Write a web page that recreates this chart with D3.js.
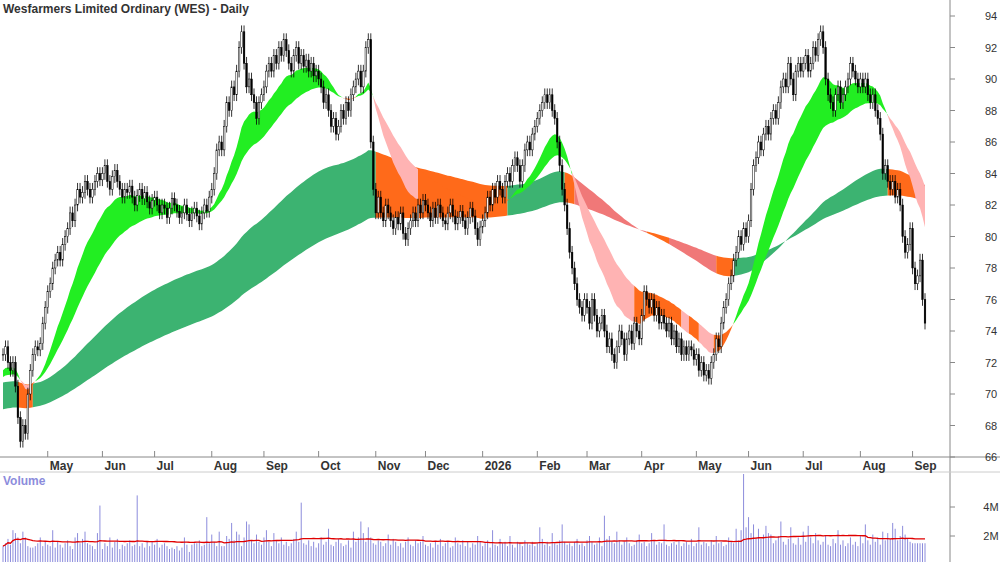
<!DOCTYPE html>
<html>
<head>
<meta charset="utf-8">
<script src="https://cdn.jsdelivr.net/npm/d3@7"></script>
<style>
  body { margin: 0; background: #fff; }
  svg { display: block; font-family: "Liberation Sans", Arial, sans-serif; }
</style>
</head>
<body>
<svg id="chart"></svg>
<script>
const width = 1000
const height = 562

// daily closes, one array per month (Apr 2025 starts on the 7th)
const apr25 = [72.5,73,72,71.5,72,70.5,68.5,67,68,67.5,70,71.5,72.5,73,72.8,73.2,74.5,75.5]
const may25 = [76.5,77,78,78.5,79,78.5,79.5,80,80.5,81.5,81,82,83,82.5,82.8,83.5,83,82.5,83,83.5,84,83.6]
const jun25 = [84,84.5,83.5,83,83.8,84.2,83.5,83,82.5,83,82.8,83.2,82.5,82,82.6,83,82.4,82.8,82.2,81.8,82.3]
const jul25 = [82.5,82,81.5,82,81.8,81.2,81.8,82.4,82,81.6,81.2,81.5,82,81.4,81,81.5,81.8,81.3,80.8,81.5,82,81.6,82.5]
const aug25 = [83,84,85.5,86,85.5,87,88.5,88,89.5,89,90.5,92,93,91,89.5,90,89,88.5,87.5,88.5,89]
const sep25 = [89.5,90.5,91,90.5,91.5,91,92,91.5,92.5,91.8,91,90.5,91.5,92,91,91.5,90.8,91.2,90.5,91,90.2,90.5]
const oct25 = [90,89.5,88.5,89,88,87,87.5,86.5,87,88,87.5,88.5,88,89,89.5,90,90.5,89.5,90.5,92,92.5,86,83]
const nov25 = [81.5,82.5,81.5,81,82,81.5,81,80.5,81.2,80.8,81.5,80.2,79.8,80.5,81,81.5,81,82,81.5,82.3]
const dec25 = [82,81.5,81,81.8,81.2,82,81.5,81,80.8,81.5,82,81.3,80.8,81.2,81.6,81,80.5,81.2,81.8,81.3,80.5,79.8,80.6]
const jan26 = [81,81.5,82.5,82,83,82.5,83.5,83,82.5,83.5,84,83.5,84.5,85,84.5,83.5,84.5,85.5,86,85.5,86.5,87]
const feb26 = [87.5,88,88.5,89,88.5,89,88,87.5,86,84.5,83,82,80.5,79,78,77,76,75.5,75,76]
const mar26 = [75.5,74.5,76,75,74,74.5,75,74,73,73.5,72.5,72,73,74,73.5,72.5,73.5,74,73.2,74.5,74,73.5]
const apr26 = [75,76.5,76,75.5,76,75,75.5,74.5,75,74.5,74,74.5,73.5,74,73,73.5,72.5,73,72.5,73,72.8,72.2]
const may26 = [72.5,71.5,72,71.2,71.5,71,72,72.5,73.5,73,74.5,75.5,76,77,77.5,78.5,79,80,79.5,80.5,80]
const jun26 = [81,83,84.5,85,86,85.5,86.5,87,86.5,87.5,88,87.5,88.5,89.5,90,89.5,91,90,89,90.5,91,90.5]
const jul26 = [91,91.5,90.5,91,92,91.5,92.5,93,92,90,89,88.5,88,89,89.5,88.5,89,89.5,90,91,90.5,90,89.5]
const aug26 = [90,89.5,90,89,88.5,89,88,87.5,86.5,84,84.5,83.5,83,83.5,82.5,83,82,80,79,79.5,80.5]
const sep26 = [78,77,77.5,78.5,76,74.5]

// daily volume in millions
const volA = [1.3,1.5,1.8,1.4,2.4,2.2,1.9,1.5,2.3,1.9,1.3,1.2,1.2,1.3,1.5,1.9,1.3,1.6,1.4,1.3,2.4,1.2,1.6,1.4,1.2,1.5,1.7,1.3,1.1,1.9,2.2,1.5,1.8,2.3,1.5,1.4,1.3,1.1,2.2,4.1,1.1,1.5,1.3,1.9,1.2,1.6,1.8,1.1,1.4,1.3,1.5,1.7,1.3,1.4,4.8,1.3,1.5,1.2,1.6,1.3,1.6,1.4,1.8,1.2,1.4,1.5,1.3,1.1,1.2,1.1,1.3,1.0,1.2,1.9,1.4,0.9,1.4,1.5,1.5,1.7,1.3,1.4,3.3,1.5,2.1,1.6,1.3,2.3,1.3,1.3,2.0,1.8,2.9,1.7,2.3,2.1,1.3,1.9,3.0]
const volB = [2.8,1.7,1.5,2.1,1.6,1.4,1.9,2.4,1.6,1.3,2.2,1.7,1.5,1.9,1.4,1.6,1.3,1.5,1.8,2.3,1.6,4.3,1.5,1.4,1.7,1.3,1.6,1.2,1.5,1.9,1.4,1.6,2.5,1.4,1.3,1.6,1.8,1.5,1.3,1.4,1.7,1.2,2.3,1.6,1.9,3.0,2.2,1.6,2.6,1.9,1.5,1.4,1.7,1.6,1.3,1.5,2.1,1.4,1.8,1.6,1.3,1.5,1.2,1.6,1.9,1.4,1.3,1.7,1.5,1.6,2.0,1.4,1.3,1.5,1.2,1.6,1.4,1.8,1.3,1.5,1.6,1.2,1.3,1.9,1.5,1.4,1.7,1.3,1.6,1.2,1.5,1.4,2.0,1.6,1.3,1.5,1.7,1.2,2.4,1.4,1.3,1.8,1.5,1.6,1.3,2.0,1.4,1.2,1.6,1.5,1.3,1.7]
const volC = [1.5,1.4,1.6,1.3,1.5,2.6,1.8,1.4,1.6,1.3,2.2,1.5,1.4,1.7,2.8,1.6,1.4,1.5,1.3,1.6,1.8,1.4,1.5,1.3,1.7,2.0,1.6,1.4,1.5,1.9,1.3,3.4,1.8,2.0,1.6,1.5,2.3,1.7,1.4,1.6,1.9,1.5,1.3,1.4,1.7,2.1,1.5,1.6,1.3,1.5,2.2,1.7,1.4,1.6,1.5,2.8,1.4,1.3,1.5,1.6,1.4,1.7,1.3,1.5,1.6,1.4,1.8,1.3,1.5,2.6,1.4,1.6,1.5,1.3,1.7,1.4,2.0,1.5,1.6,1.3,1.4,1.9,1.6,1.5,2.5,1.7,2.4,7.5,2.6,3.3,2.2,2.8,1.9,2.5,1.8,2.1,2.7,2.2]
const volD = [2.1,1.5,1.7,2.0,3.0,1.6,1.4,1.8,2.6,1.5,1.4,1.9,1.4,2.3,1.6,2.7,1.9,1.5,2.2,1.7,1.4,1.6,2.0,1.4,1.3,1.8,1.5,2.4,1.4,1.7,1.3,1.5,1.9,1.4,1.6,1.3,2.0,1.5,2.8,1.7,1.4,2.1,1.6,1.9,1.4,2.3,1.7,2.2,1.8,2.9,2.5,1.7,2.0,2.7,2.1,1.8,1.6]

const priceTicks = [66,68,70,72,74,76,78,80,82,84,86,88,90,92,94]
const volTicks = [2e6, 4e6]

// ribbon settings: [fast period, slow period, seed fast, seed slow]
const fastRibbon = [20, 40, 71.4, 71.0]
const longRibbon = [125, 230, 70.7, 69.0]

const colours = {
  up: "#22ee22", down: "#ff6a1a", fall: "#ffb3b3",
  longUp: "#3cb371", longFall: "#f07878",
  text: "#333333", axis: "#888888", vol: "#8c8cdc", volMa: "#e00000"
}

const closes = [].concat(apr25,may25,jun25,jul25,aug25,sep25,oct25,nov25,dec25,jan26,feb26,mar26,apr26,may26,jun26,jul26,aug26,sep26)
const volumes = [].concat(volA,volB,volC,volD).map(d => d*1e6)

const dates = d3.timeDay.range(new Date(2025,3,7), new Date(2026,8,9)).filter(d => d.getDay() % 6 !== 0)
const n = Math.min(closes.length, dates.length)

const bars = d3.range(n).map(i => {
  const c = closes[i]
  const o = i === 0 ? c : closes[i-1]
  return { i, date: dates[i], o, c, h: Math.max(o, c) + 0.4, l: Math.min(o, c) - 0.4, v: volumes[i] || 1.5e6 }
})

function ema(period, seed) {
  const k = 2 / (period + 1)
  let e = seed
  return bars.map(b => (e = e + k * (b.c - e)))
}

const svg = d3.select("#chart").attr("width", width).attr("height", height)

const x = d3.scaleLinear().domain([0, n - 1]).range([3, 925])
const y = d3.scaleLinear().domain([66, 94]).range([457, 16])
const yv = d3.scaleLinear().domain([0, 4e6]).range([565, 507])

// bySlope: colour from the direction of the faster line instead of the crossover
function ribbon(cfg, upC, downC, fallC, thresh, bySlope) {
  const a = ema(cfg[0], cfg[2]), b = ema(cfg[1], cfg[3])
  const col = bars.map((d, i) => {
    const slope = i < 3 ? 0 : (a[i] - a[i-3]) / 3
    if (bySlope ? slope >= 0 : a[i] >= b[i]) return upC
    return slope < thresh ? fallC : downC
  })
  const area = d3.area().x(i => x(i)).y0(i => y(a[i])).y1(i => y(b[i]))
  let start = 0
  for (let i = 1; i <= n; i++) {
    if (i === n || col[i] !== col[start]) {
      const idx = d3.range(start, Math.min(i + 1, n))
      svg.append("path").attr("d", area(idx)).attr("fill", col[start])
      start = i
    }
  }
}

ribbon(longRibbon, colours.longUp, colours.down, colours.longFall, -0.085, true)
ribbon(fastRibbon, colours.up, colours.down, colours.fall, -0.12, false)

// candles
const candle = svg.append("g").selectAll("g").data(bars).enter().append("g")
candle.append("line")
  .attr("x1", d => x(d.i)).attr("x2", d => x(d.i))
  .attr("y1", d => y(d.h)).attr("y2", d => y(d.l))
  .attr("stroke", "#000").attr("stroke-width", 0.8)
candle.append("rect")
  .attr("x", d => x(d.i) - 0.8).attr("width", 1.6)
  .attr("y", d => y(Math.max(d.o, d.c)))
  .attr("height", d => Math.max(1, Math.abs(y(d.o) - y(d.c))))
  .attr("fill", d => d.c >= d.o ? "#fff" : "#000")
  .attr("stroke", "#000").attr("stroke-width", 0.5)

// price axis
svg.append("line").attr("x1", 950).attr("x2", 950).attr("y1", 0).attr("y2", height).attr("stroke", colours.axis)
svg.append("line").attr("x1", 0).attr("x2", width).attr("y1", 457).attr("y2", 457).attr("stroke", colours.axis)
svg.append("line").attr("x1", 0).attr("x2", width).attr("y1", 472).attr("y2", 472).attr("stroke", "#ccc")
const ya = svg.append("g")
priceTicks.forEach(t => {
  ya.append("line").attr("x1", 950).attr("x2", 955).attr("y1", y(t)).attr("y2", y(t)).attr("stroke", colours.axis)
  ya.append("text").attr("x", 991).attr("y", y(t) + 4).attr("text-anchor", "middle")
    .attr("font-size", 11).attr("fill", colours.text).text(t)
})

// month ticks
const monthStarts = bars.filter((d, i) => i > 0 && d.date.getMonth() !== bars[i-1].date.getMonth())
const fmt = d3.timeFormat("%b")
monthStarts.forEach(d => {
  const px = x(d.i)
  svg.append("line").attr("x1", px).attr("x2", px).attr("y1", 451).attr("y2", 457).attr("stroke", colours.axis)
  svg.append("text").attr("x", px + 2).attr("y", 470).attr("font-size", 12).attr("font-weight", "bold")
    .attr("fill", colours.text).text(d.date.getMonth() === 0 ? d.date.getFullYear() : fmt(d.date))
})

svg.append("text").attr("x", 3).attr("y", 13).attr("font-size", 12).attr("font-weight", "bold")
  .attr("fill", colours.text).text("Wesfarmers Limited Ordinary (WES) - Daily")

// volume
svg.append("text").attr("x", 3).attr("y", 485).attr("font-size", 12).attr("font-weight", "bold")
  .attr("fill", colours.vol).text("Volume")
svg.append("g").selectAll("line").data(bars).enter().append("line")
  .attr("x1", d => x(d.i)).attr("x2", d => x(d.i))
  .attr("y1", height).attr("y2", d => Math.max(474, yv(d.v)))
  .attr("stroke", colours.vol).attr("stroke-width", 1)
const vma = bars.map((d, i) => d3.mean(bars.slice(Math.max(0, i - 49), i + 1), b => b.v))
svg.append("path").attr("d", d3.line().x((d, i) => x(i)).y(d => yv(d))(vma))
  .attr("fill", "none").attr("stroke", colours.volMa).attr("stroke-width", 1.3)
volTicks.forEach(t => {
  svg.append("line").attr("x1", 950).attr("x2", 955).attr("y1", yv(t)).attr("y2", yv(t)).attr("stroke", colours.axis)
  svg.append("text").attr("x", 991).attr("y", yv(t) + 4).attr("text-anchor", "middle")
    .attr("font-size", 11).attr("fill", colours.text).text(t / 1e6 + "M")
})
</script>
</body>
</html>
